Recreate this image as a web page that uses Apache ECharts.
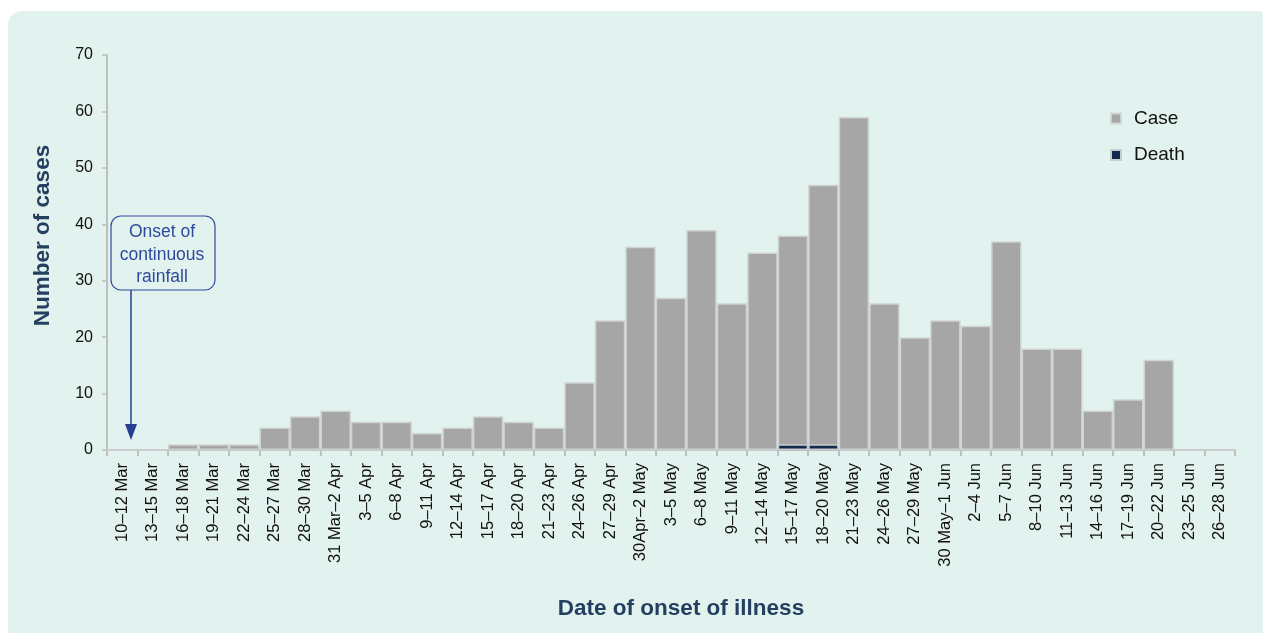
<!DOCTYPE html>
<html><head><meta charset="utf-8">
<script src="https://cdn.jsdelivr.net/npm/echarts@6/dist/echarts.min.js"></script>
<style>html,body{margin:0;padding:0;background:#fff}#c{width:1263px;height:633px}</style>
</head><body><div id="c"></div>
<script>
const categories = ["10–12 Mar","13–15 Mar","16–18 Mar","19–21 Mar","22–24 Mar","25–27 Mar","28–30 Mar","31 Mar–2 Apr","3–5 Apr","6–8 Apr","9–11 Apr","12–14 Apr","15–17 Apr","18–20 Apr","21–23 Apr","24–26 Apr","27–29 Apr","30Apr–2 May","3–5 May","6–8 May","9–11 May","12–14 May","15–17 May","18–20 May","21–23 May","24–26 May","27–29 May","30 May–1 Jun","2–4 Jun","5–7 Jun","8–10 Jun","11–13 Jun","14–16 Jun","17–19 Jun","20–22 Jun","23–25 Jun","26–28 Jun"];
const cases = [0,0,1,1,1,4,6,7,5,5,3,4,6,5,4,12,23,36,27,39,26,35,38,47,59,26,20,23,22,37,18,18,7,9,16,0,0];
const deaths = [0,0,0,0,0,0,0,0,0,0,0,0,0,0,0,0,0,0,0,0,0,0,1,1,0,0,0,0,0,0,0,0,0,0,0,0,0];
const yTicks = [0,10,20,30,40,50,60,70];

const FONT = '"Liberation Sans", Arial, sans-serif';
const chart = echarts.init(document.getElementById('c'));
const titleColor = '#243f60';
chart.setOption({
  animation:false,
  backgroundColor:'#ffffff',
  graphic:[
    {type:'rect', z:-10, shape:{x:8,y:11,width:1265,height:640,r:14}, style:{fill:'#e2f2ef'}},
    {type:'rect', z:50, shape:{x:111,y:216,width:104,height:74,r:10}, style:{fill:'#e2f2ef',stroke:'#2e4a9a',lineWidth:1.2}},
    {type:'text', z:51, style:{x:162,y:255,text:'Onset of\ncontinuous\nrainfall',textAlign:'center',textVerticalAlign:'middle',fill:'#2e4a9a',font:'17.5px "Liberation Sans", Arial, sans-serif',lineHeight:22.5}},
    {type:'line', z:50, shape:{x1:131,y1:290,x2:131,y2:428}, style:{stroke:'#243f8f',lineWidth:1.5}},
    {type:'polygon', z:50, shape:{points:[[125,424],[137,424],[131,440]]}, style:{fill:'#243f8f'}}
  ],
  grid:{left:107,right:28,top:55,bottom:183,containLabel:false},
  legend:{
    orient:'vertical', left:1105, top:104, itemWidth:10, itemHeight:10, itemGap:17.5,
    icon:'rect',
    textStyle:{fontFamily:FONT,fontSize:19,color:'#111',padding:[0,0,0,8]},
    data:['Case','Death']
  },
  xAxis:{
    type:'category', data:categories, boundaryGap:true,
    name:'Date of onset of illness', nameLocation:'middle', nameGap:147,
    nameTextStyle:{fontFamily:FONT,fontSize:22.5,fontWeight:'bold',color:titleColor,padding:[0,0,0,20]},
    axisLine:{lineStyle:{color:'#bfbfbf',width:2}},
    axisTick:{show:true,alignWithLabel:false,length:6,lineStyle:{color:'#bfbfbf',width:2}},
    axisLabel:{rotate:90,interval:0,margin:13,fontFamily:FONT,fontSize:16.5,color:'#111'}
  },
  yAxis:{
    type:'value', min:0, max:70, interval:10,
    name:'Number of cases', nameLocation:'middle', nameGap:53, nameRotate:90,
    nameTextStyle:{fontFamily:FONT,fontSize:22.5,fontWeight:'bold',color:titleColor,padding:[0,0,0,34]},
    axisLine:{show:true,lineStyle:{color:'#bfbfbf',width:2}},
    axisTick:{show:true,length:5,lineStyle:{color:'#bfbfbf',width:1.5}},
    splitLine:{show:false},
    axisLabel:{margin:14,fontFamily:FONT,fontSize:16,color:'#111',
      formatter:v=>yTicks.includes(v)?String(v):''}
  },
  series:[
    {name:'Case',type:'bar',data:cases,barCategoryGap:'0%',barGap:'-100%',
     itemStyle:{color:'#a6a6a6',borderColor:'#cfd3d3',borderWidth:1.5}},
    {name:'Death',type:'bar',data:deaths,barCategoryGap:'0%',barGap:'-100%',
     itemStyle:{color:'#0f2a4a',borderColor:'#c8cccc',borderWidth:1.5}}
  ]
});
</script></body></html>
